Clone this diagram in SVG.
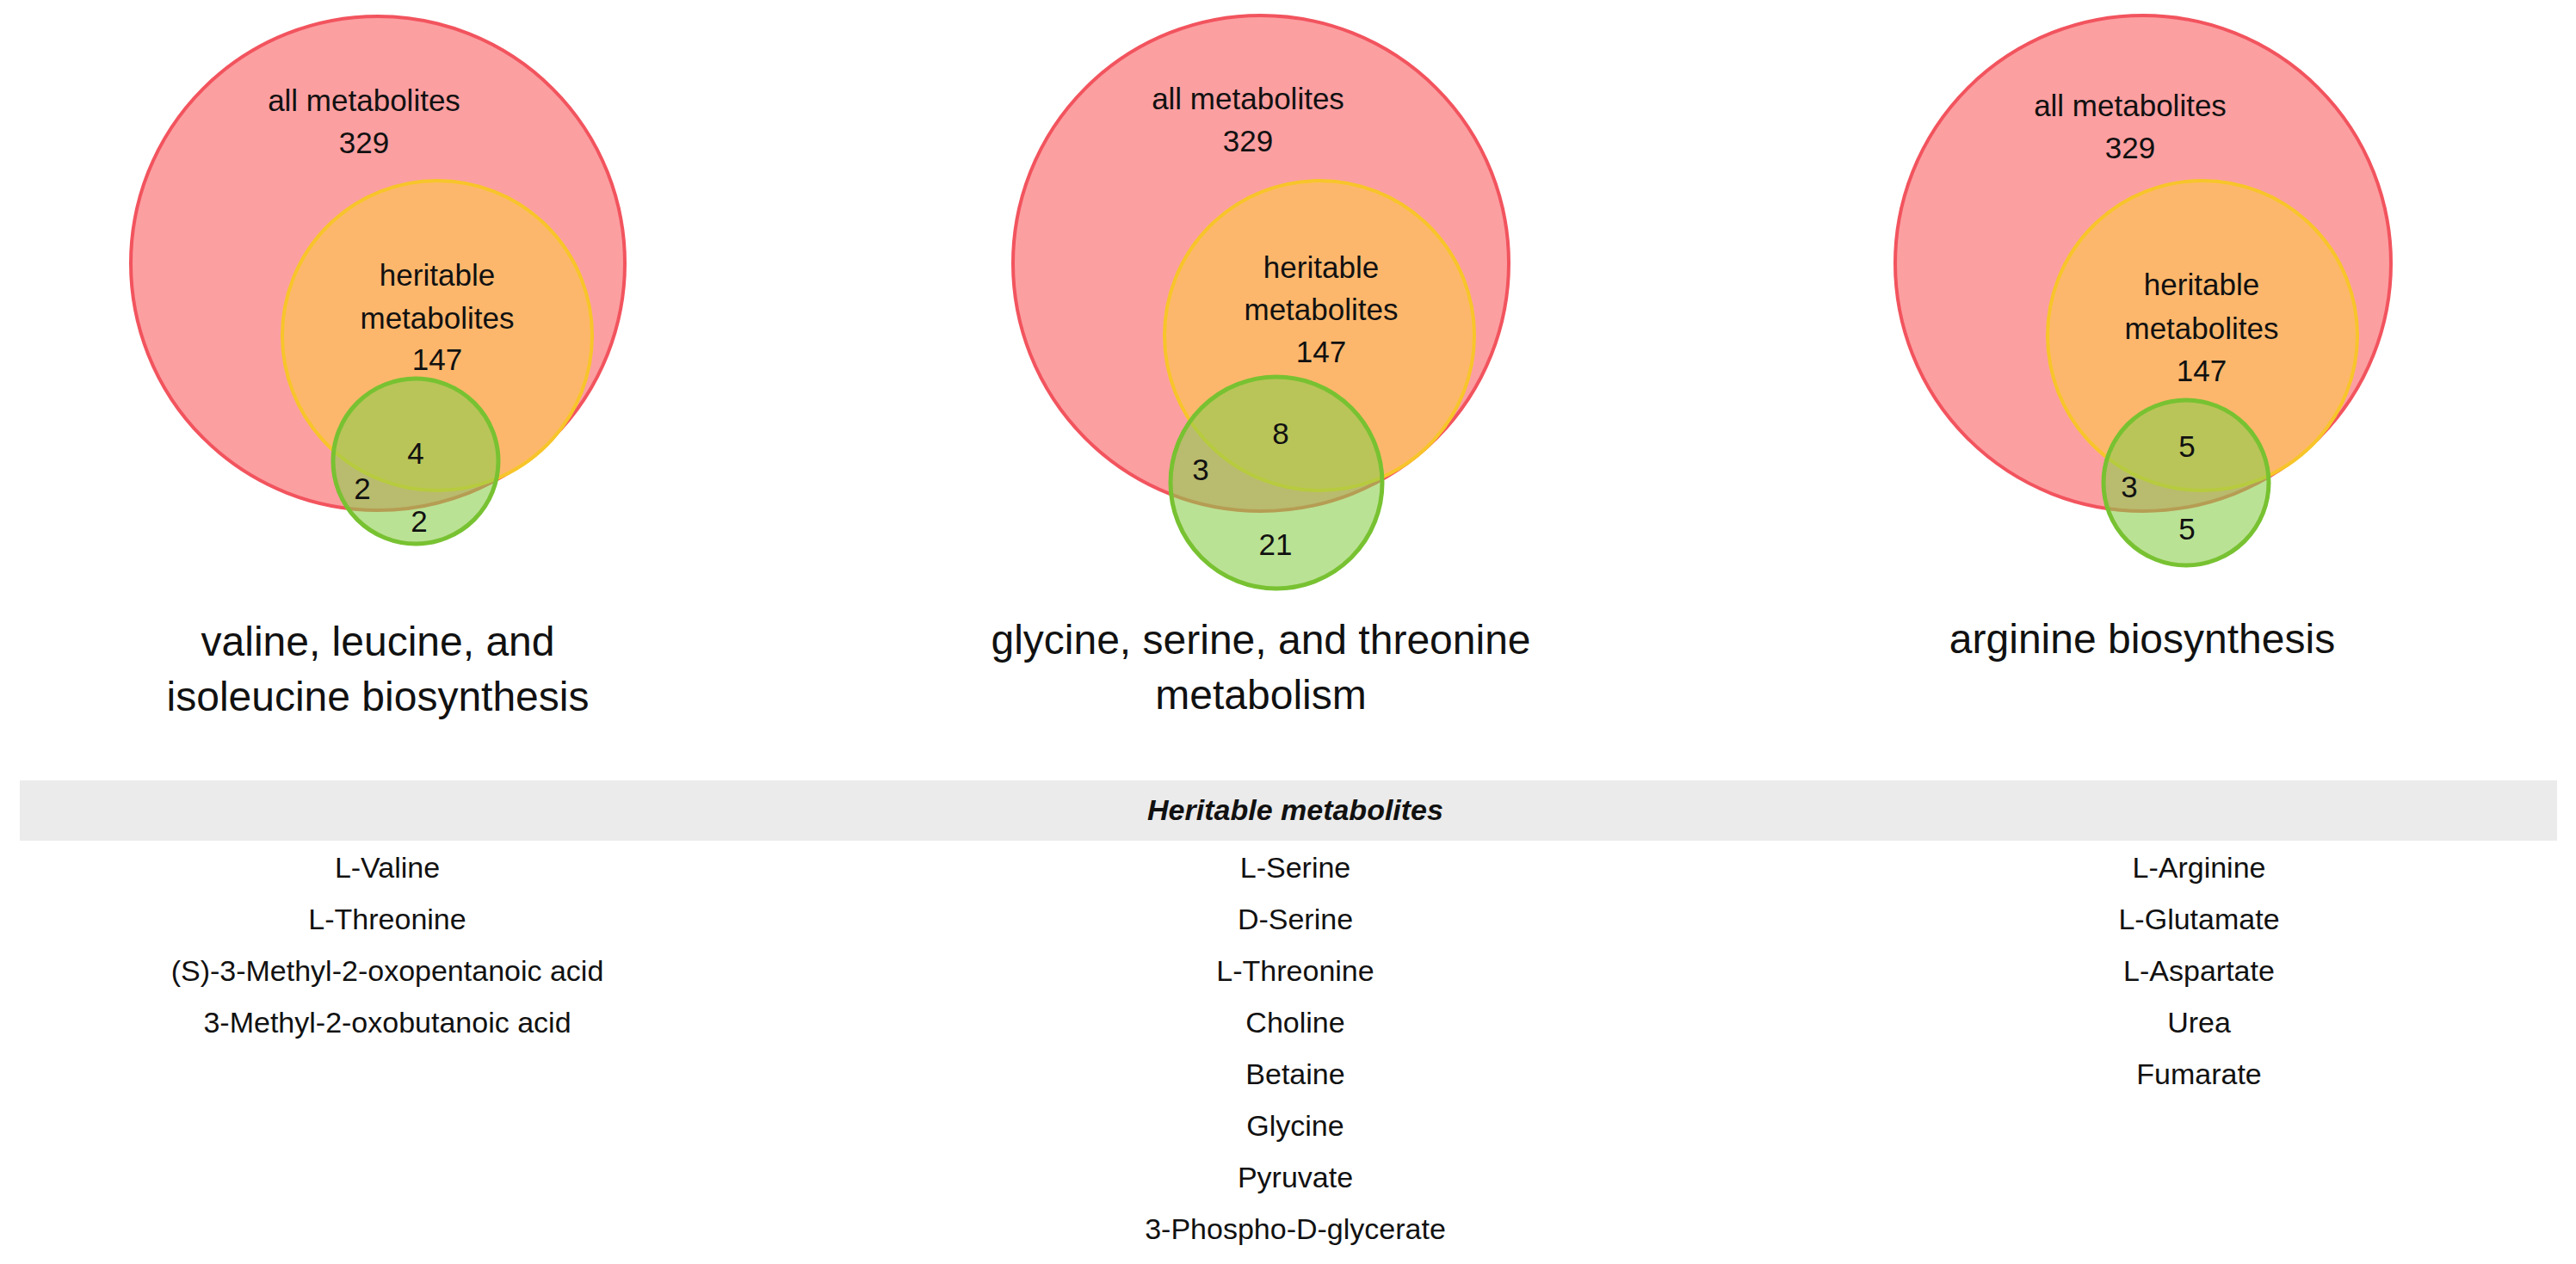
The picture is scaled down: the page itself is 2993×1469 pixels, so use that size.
<svg xmlns="http://www.w3.org/2000/svg" width="2993" height="1469" viewBox="0 0 2993 1469">
<style>
text{font-family:"Liberation Sans",Arial,sans-serif;fill:#111;text-anchor:middle}
.lbl{font-size:35px}
.ttl{font-size:48px}
.row{font-size:34px}
.hdr{font-size:34px;font-weight:bold;font-style:italic}
.red{fill:#fc9fa1;stroke:#f2545e;stroke-width:4}
.org{fill:#fdb76c;stroke:#f7c52a;stroke-width:4}
.grn{fill:#8ccf4d;fill-opacity:0.6;stroke:#78c232;stroke-width:5}
</style>
<rect width="2993" height="1469" fill="#fff"/>
<g id="venn1">
<circle class="red" cx="439" cy="306" r="287"/>
<circle class="org" cx="508" cy="390" r="180"/>
<circle class="grn" cx="483" cy="536" r="96"/>
<text class="lbl" x="423" y="129">all metabolites</text>
<text class="lbl" x="423" y="178">329</text>
<text class="lbl" x="508" y="332">heritable</text>
<text class="lbl" x="508" y="382">metabolites</text>
<text class="lbl" x="508" y="430">147</text>
<text class="lbl" x="483" y="539">4</text>
<text class="lbl" x="421" y="580">2</text>
<text class="lbl" x="487" y="618">2</text>
<text class="ttl" x="439" y="762">valine, leucine, and</text>
<text class="ttl" x="439" y="826">isoleucine biosynthesis</text>
</g>
<g id="venn2">
<circle class="red" cx="1465" cy="306" r="288"/>
<circle class="org" cx="1533" cy="390" r="180"/>
<circle class="grn" cx="1483" cy="561" r="123"/>
<text class="lbl" x="1450" y="127">all metabolites</text>
<text class="lbl" x="1450" y="176">329</text>
<text class="lbl" x="1535" y="323">heritable</text>
<text class="lbl" x="1535" y="372">metabolites</text>
<text class="lbl" x="1535" y="421">147</text>
<text class="lbl" x="1488" y="516">8</text>
<text class="lbl" x="1395" y="558">3</text>
<text class="lbl" x="1482" y="645">21</text>
<text class="ttl" x="1465" y="760">glycine, serine, and threonine</text>
<text class="ttl" x="1465" y="824">metabolism</text>
</g>
<g id="venn3">
<circle class="red" cx="2490" cy="306" r="288"/>
<circle class="org" cx="2559" cy="390" r="180"/>
<circle class="grn" cx="2540" cy="561" r="96"/>
<text class="lbl" x="2475" y="135">all metabolites</text>
<text class="lbl" x="2475" y="184">329</text>
<text class="lbl" x="2558" y="343">heritable</text>
<text class="lbl" x="2558" y="394">metabolites</text>
<text class="lbl" x="2558" y="443">147</text>
<text class="lbl" x="2541" y="531">5</text>
<text class="lbl" x="2474" y="578">3</text>
<text class="lbl" x="2541" y="627">5</text>
<text class="ttl" x="2489" y="759">arginine biosynthesis</text>
</g>
<g id="table">
<rect x="23" y="907" width="2948" height="70" fill="#ebebeb"/>
<text class="hdr" x="1505" y="953">Heritable metabolites</text>
<text class="row" x="450" y="1020">L-Valine</text>
<text class="row" x="450" y="1080">L-Threonine</text>
<text class="row" x="450" y="1140">(S)-3-Methyl-2-oxopentanoic acid</text>
<text class="row" x="450" y="1200">3-Methyl-2-oxobutanoic acid</text>
<text class="row" x="1505" y="1020">L-Serine</text>
<text class="row" x="1505" y="1080">D-Serine</text>
<text class="row" x="1505" y="1140">L-Threonine</text>
<text class="row" x="1505" y="1200">Choline</text>
<text class="row" x="1505" y="1260">Betaine</text>
<text class="row" x="1505" y="1320">Glycine</text>
<text class="row" x="1505" y="1380">Pyruvate</text>
<text class="row" x="1505" y="1440">3-Phospho-D-glycerate</text>
<text class="row" x="2555" y="1020">L-Arginine</text>
<text class="row" x="2555" y="1080">L-Glutamate</text>
<text class="row" x="2555" y="1140">L-Aspartate</text>
<text class="row" x="2555" y="1200">Urea</text>
<text class="row" x="2555" y="1260">Fumarate</text>
</g>
</svg>
